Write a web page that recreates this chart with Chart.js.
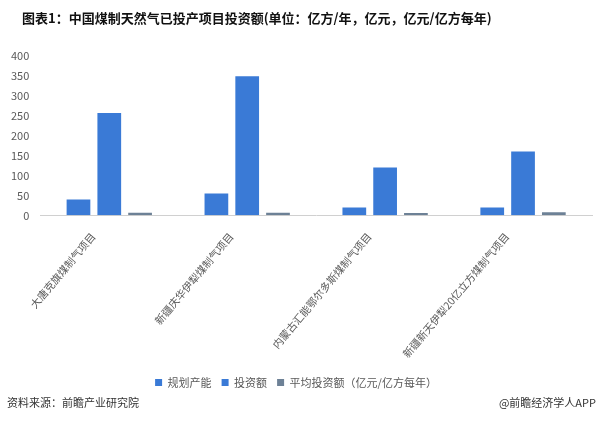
<!DOCTYPE html>
<html>
<head>
<meta charset="utf-8">
<script src="https://cdn.jsdelivr.net/npm/chart.js@4"></script>
<style>
    body { margin: 0; background: #fff; }
    #wrap { position: relative; width: 600px; height: 431px; font-family: "Noto Sans CJK SC", sans-serif; }
    #title { position: absolute; left: 22px; top: 8px; font-size: 13px; font-weight: bold; color: #111; white-space: nowrap; }
    #chart-box { position: absolute; left: 0; top: 0; width: 600px; height: 398px; }
    .foot { position: absolute; top: 394px; font-size: 11px; color: #333; }
</style>
</head>
<body>
<div id="wrap">
    <div id="chart-box"><canvas id="main-chart"></canvas></div>
    <div id="title">图表1：中国煤制天然气已投产项目投资额(单位：亿方/年，亿元，亿元/亿方每年)</div>
    <div class="foot" style="left:7px">资料来源：前瞻产业研究院</div>
    <div class="foot" style="right:4px">@前瞻经济学人APP</div>
</div>
<script>
// Data
const projects = ['大唐克旗煤制气项目', '新疆庆华伊犁煤制气项目', '内蒙古汇能鄂尔多斯煤制气项目', '新疆新天伊犁20亿立方煤制气项目'];
const capacity = [40, 55, 20, 20];          // 规划产能
const investment = [257, 349, 120, 160];    // 投资额
const avgInvestment = [6.4, 6.3, 6, 8];     // 平均投资额
const yTicks = [0, 50, 100, 150, 200, 250, 300, 350, 400];

const labelColor = '#595959';

new Chart(document.getElementById('main-chart').getContext('2d'), {
    type: 'bar',
    data: {
        labels: projects,
        datasets: [
            { label: '规划产能', data: capacity, backgroundColor: '#3a7ad6' },
            { label: '投资额', data: investment, backgroundColor: '#3a7ad6' },
            { label: '平均投资额（亿元/亿方每年）', data: avgInvestment, backgroundColor: '#6d8196' }
        ]
    },
    options: {
        responsive: true,
        maintainAspectRatio: false,
        animation: false,
        layout: { padding: { top: 56, left: 0, right: 8, bottom: 0 } },
        datasets: { bar: { categoryPercentage: 0.67, barPercentage: 0.77 } },
        scales: {
            y: {
                min: 0,
                max: 400,
                afterBuildTicks: axis => { axis.ticks = yTicks.map(v => ({ value: v })); },
                grid: { display: false, drawTicks: false },
                border: { display: false },
                ticks: { color: labelColor, font: { size: 11, family: 'Noto Sans CJK SC' }, padding: 11 }
            },
            x: {
                // let the first rotated label hang past the y axis like the original
                afterFit: axis => { axis.paddingLeft = 0; axis.paddingRight = 0; },
                grid: { display: false },
                border: { color: '#d0d0d0' },
                ticks: {
                    color: labelColor,
                    minRotation: 50,
                    maxRotation: 50,
                    padding: 7,
                    labelOffset: -16,
                    font: { size: 10.5, family: 'Noto Sans CJK SC' }
                }
            }
        },
        plugins: {
            legend: {
                position: 'bottom',
                labels: {
                    color: labelColor,
                    boxWidth: 7,
                    boxHeight: 7,
                    padding: 10,
                    font: { size: 11, family: 'Noto Sans CJK SC' }
                }
            },
            tooltip: { enabled: false }
        }
    }
});
</script>
</body>
</html>
